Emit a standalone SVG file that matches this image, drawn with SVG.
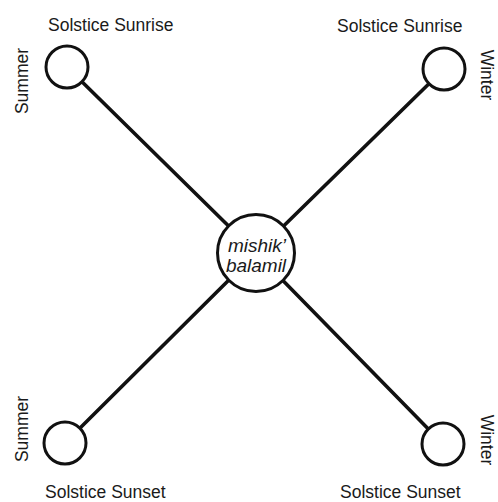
<svg xmlns="http://www.w3.org/2000/svg" width="498" height="502" viewBox="0 0 498 502">
  <style>
    .lbl { font-family: "Liberation Sans", Arial, sans-serif; font-size: 17.5px; fill: #1a1a1a; }
    .ctr { font-family: "Liberation Sans", Arial, sans-serif; font-size: 19px; font-style: italic; fill: #1a1a1a; text-anchor: middle; }
    .node { fill: #ffffff; stroke: #111111; stroke-width: 3; }
    .edge { stroke: #111111; stroke-width: 3.6; stroke-linecap: round; }
  </style>
  <rect width="498" height="502" fill="#ffffff"/>

  <!-- connectors: each corner node to the central node -->
  <g id="connectors">
    <line class="edge" x1="67" y1="67" x2="256" y2="253"/>
    <line class="edge" x1="444" y1="69" x2="256" y2="253"/>
    <line class="edge" x1="65" y1="443" x2="256" y2="253"/>
    <line class="edge" x1="443" y1="444" x2="256" y2="253"/>
  </g>

  <g id="center">
    <circle class="node" cx="256" cy="253" r="38.5"/>
    <text class="ctr" x="257" y="252">mishik’</text>
    <text class="ctr" x="256" y="272">balamil</text>
  </g>

  <g id="summer-sunrise">
    <circle class="node" cx="67" cy="67" r="21"/>
    <text class="lbl" x="48" y="31">Solstice Sunrise</text>
    <text class="lbl" transform="translate(28,81) rotate(-90)" text-anchor="middle">Summer</text>
  </g>

  <g id="winter-sunrise">
    <circle class="node" cx="444" cy="69" r="21"/>
    <text class="lbl" x="337" y="32">Solstice Sunrise</text>
    <text class="lbl" transform="translate(481,75) rotate(90)" text-anchor="middle">Winter</text>
  </g>

  <g id="summer-sunset">
    <circle class="node" cx="65" cy="443" r="21"/>
    <text class="lbl" x="45" y="498">Solstice Sunset</text>
    <text class="lbl" transform="translate(28,429) rotate(-90)" text-anchor="middle">Summer</text>
  </g>

  <g id="winter-sunset">
    <circle class="node" cx="443" cy="444" r="21"/>
    <text class="lbl" x="340" y="498">Solstice Sunset</text>
    <text class="lbl" transform="translate(481,440) rotate(90)" text-anchor="middle">Winter</text>
  </g>
</svg>
